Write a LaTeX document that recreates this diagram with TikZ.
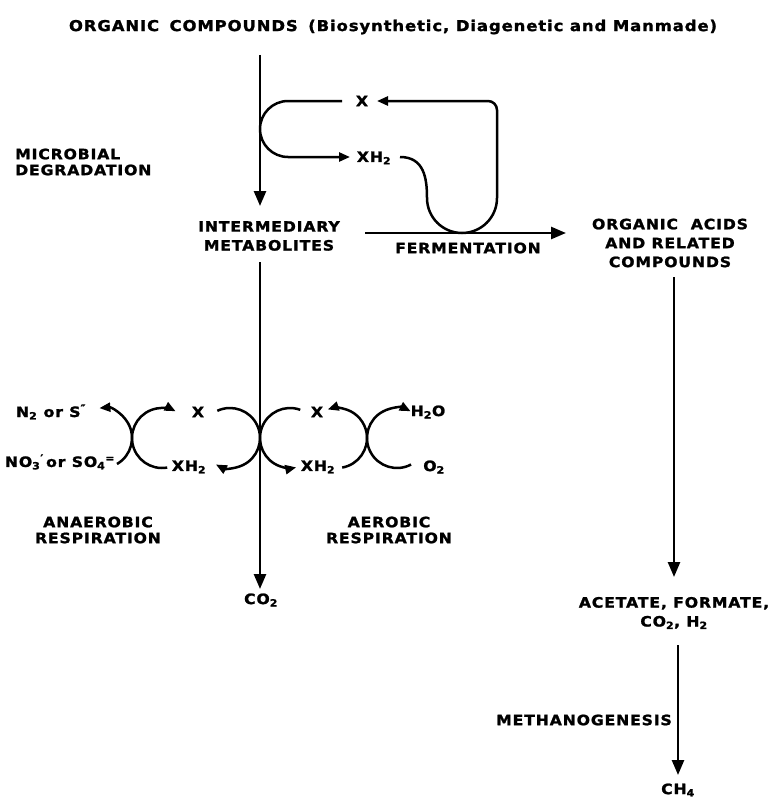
\documentclass[tikz,border=0pt]{standalone}
\usepackage{fontspec}
\setmainfont{DejaVu Sans}
\newfontfamily\lab{DejaVu Sans Bold}[LetterSpace=6, FakeStretch=1.1, FakeBold=1.5]
\usetikzlibrary{arrows.meta}
\newcommand{\mysub}[1]{\textsubscript{#1}}
\tikzset{
  lbl/.style={font=\lab\fontsize{14.3}{19}\selectfont, inner sep=0pt, align=center},
  lbltight/.style={lbl, font=\lab\fontsize{14.3}{16}\selectfont},
  ln/.style={line width=2.5bp},
  arr/.style={ln, -{Triangle[length=15bp,width=12bp]}},
  sarr/.style={ln, -{Triangle[length=11bp,width=9bp]}}
}
\begin{document}
\begin{tikzpicture}[x=1bp,y=1bp]
\useasboundingbox (0,0) rectangle (778,-800);
% labels
\node[lbl,font=\lab\fontsize{15}{19}\selectfont] (title) at (393,-27) {ORGANIC\hspace{0.7em}COMPOUNDS\hspace{0.7em}(Biosynthetic, Diagenetic and Manmade)};
\node[lbltight,anchor=west,align=left] (micro) at (15,-162) {MICROBIAL\\DEGRADATION};
\node[lbl] (inter) at (269,-236) {INTERMEDIARY\\METABOLITES};
\node[lbl] (ferm) at (468,-248) {FERMENTATION};
\node[lbl] (oac) at (670,-243) {ORGANIC\hspace{0.9em}ACIDS\\AND RELATED\\COMPOUNDS};
\node[lbl] (x1) at (362,-101) {X};
\node[lbl] (xh1) at (374,-158) {XH\mysub{2}};
\node[lbl] (n2) at (51,-412) {N\mysub{2} or S\textsuperscript{″}};
\node[lbl] (no3) at (60,-462) {NO\mysub{3}\textsuperscript{′}\,or SO\mysub{4}\textsuperscript{=}};
\node[lbl] (x2) at (198,-412) {X};
\node[lbl] (xh2) at (189,-467) {XH\mysub{2}};
\node[lbl] (x3) at (317,-412) {X};
\node[lbl] (xh3) at (318,-467) {XH\mysub{2}};
\node[lbl] (h2o) at (428,-412) {H\mysub{2}O};
\node[lbl] (o2) at (434,-467) {O\mysub{2}};
\node[lbltight] (anaer) at (98,-530) {ANAEROBIC\\RESPIRATION};
\node[lbltight] (aer) at (389,-530) {AEROBIC\\RESPIRATION};
\node[lbl] (co2) at (261,-600) {CO\mysub{2}};
\node[lbl] (acet) at (674,-613) {ACETATE, FORMATE,\\CO\mysub{2}, H\mysub{2}};
\node[lbl,anchor=east] (meth) at (672,-720) {METHANOGENESIS};
\node[lbl] (ch4) at (678,-790) {CH\mysub{4}};
% connector end points
\coordinate (a1) at (260,-55);  \coordinate (a2) at (260,-206);
\coordinate (b1) at (260,-262); \coordinate (b2) at (260,-589);
\coordinate (f1) at (365,-233); \coordinate (f2) at (566,-233);
\coordinate (r1) at (674,-277); \coordinate (r2) at (674,-577);
\coordinate (m1) at (678,-645); \coordinate (m2) at (678,-775);
% main arrows
\draw[arr] (a1) -- (a2);
\draw[arr] (b1) -- (b2);
\draw[arr] (f1) -- (f2);
\draw[arr] (r1) -- (r2);
\draw[arr] (m1) -- (m2);
% X / XH2 loop at top
\draw[sarr] (342,-101) -- (288,-101) arc[start angle=90,end angle=270,radius=28] -- (350,-157);
\draw[sarr] (400,-157) .. controls (424,-157) and (427,-178) .. (427,-198)
  arc[start angle=180,end angle=360,radius=35] [rounded corners=9bp] -- (497,-101) -- (377,-101);
% anaerobic cross
\draw[sarr] (102,-438) ++(-60:30) arc[start angle=-60,end angle=95,radius=30];
\draw[sarr] (162,-438) ++(280:30) arc[start angle=280,end angle=63,radius=30];
% central cross
\draw[sarr] (230,-438) ++(115:30) arc[start angle=115,end angle=-118,radius=30];
\draw[sarr] (290,-438) ++(70:30) arc[start angle=70,end angle=282,radius=30];
% aerobic cross
\draw[sarr] (337,-438) ++(-80:30) arc[start angle=-80,end angle=108,radius=30];
\draw[sarr] (397,-438) ++(298:30) arc[start angle=298,end angle=63,radius=30];
\end{tikzpicture}
\end{document}
